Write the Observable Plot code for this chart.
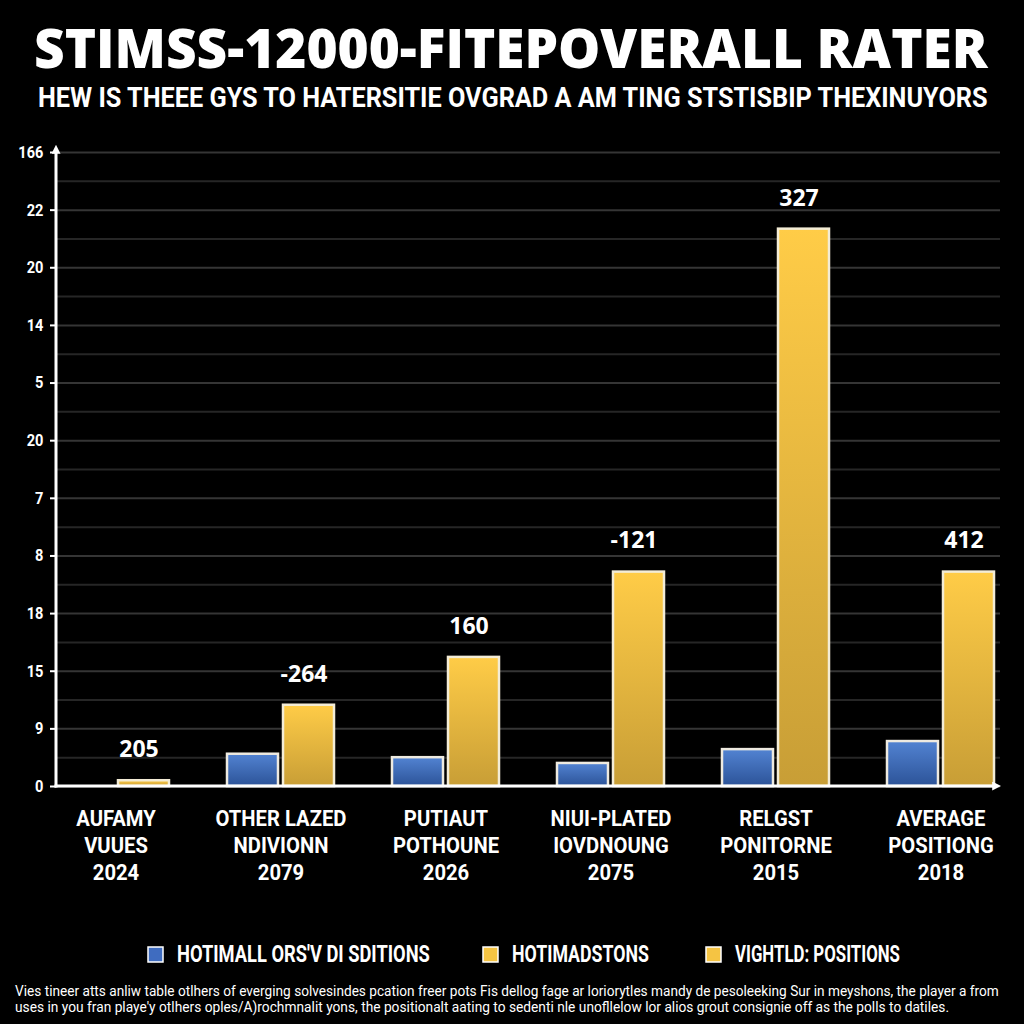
<!DOCTYPE html>
<html>
<head>
<meta charset="utf-8">
<script src="https://cdn.jsdelivr.net/npm/d3@7"></script>
<script src="https://cdn.jsdelivr.net/npm/@observablehq/plot@0.6"></script>
<style>
  html, body { margin: 0; padding: 0; background: #000; }
  body { width: 1024px; height: 1024px; overflow: hidden; }
  svg { display: block; }
</style>
</head>
<body>
<div id="header"></div>
<div id="chart"></div>
<div id="footer"></div>
<script>
// ---------- data ----------
const title = "STIMSS-12000-FITEPOVERALL RATER";
const subtitle = "HEW IS THEEE GYS TO HATERSITIE OVGRAD A AM TING STSTISBIP THEXINUYORS";
const categories = [
  "AUFAMY\nVUUES\n2024",
  "OTHER LAZED\nNDIVIONN\n2079",
  "PUTIAUT\nPOTHOUNE\n2026",
  "NIUI-PLATED\nIOVDNOUNG\n2075",
  "RELGST\nPONITORNE\n2015",
  "AVERAGE\nPOSITIONG\n2018"
];
const blueValues   = [null, 0.56, 0.50, 0.40, 0.64, 0.78];
const yellowValues = [0.10, 1.41, 2.24, 3.72, 9.67, 3.72];
const valueLabels  = ["205", "-264", "160", "-121", "327", "412"];
const yTickLabels  = ["0", "9", "15", "18", "8", "7", "20", "5", "14", "20", "22", "166"];
const legendLabels = ["HOTIMALL ORS'V DI SDITIONS", "HOTIMADSTONS", "VIGHTLD: POSITIONS"];
const legendColors = ["#3f6cc0", "#f5c443", "#f5c443"];
const captionLines = [
  "Vies tineer atts anliw table otlhers  of everging solvesindes pcation freer pots Fis dellog fage ar loriorytles mandy de pesoleeking Sur in meyshons, the player a from",
  "uses in you fran playe'y otlhers oples/A)rochmnalit yons, the positionalt aating to sedenti nle unofllelow lor alios grout consignie off as the polls to datiles."
];

const blueData = categories.map((c, i) => ({cat: c, value: blueValues[i]})).filter(d => d.value != null);
const yellowData = categories.map((c, i) => ({cat: c, value: yellowValues[i], label: valueLabels[i]}));
const yTicks = yTickLabels.map((_, i) => i);
const halfGrid = yTicks.slice(0, -1).map(i => i + 0.5);

const font = "Roboto, 'Liberation Sans', sans-serif";

// place a text so that it spans a given width, by condensing it horizontally
function fitText(sel, x, y, width) {
  const natural = sel.node().getComputedTextLength();
  const s = Math.min(1, width / natural);
  sel.attr("transform", `translate(${x},${y}) scale(${s},1)`);
}

// ---------- header ----------
const header = d3.select("#header").append("svg").attr("width", 1024).attr("height", 125);
const tTitle = header.append("text").text(title)
  .attr("fill", "#fff").attr("font-family", "'Open Sans', Roboto, sans-serif")
  .attr("font-weight", 800).attr("font-size", 54);
fitText(tTitle, 34, 67.5, 954);
const tSub = header.append("text").text(subtitle)
  .attr("fill", "#fff").attr("font-family", font)
  .attr("font-weight", 700).attr("font-size", 27);
fitText(tSub, 38, 107, 950);

// ---------- axes lines with arrows + gradients (render mark) ----------
function axisLines(index, scales, values, dims) {
  const g = d3.create("svg:g");
  const defs = g.append("defs");
  const gy = defs.append("linearGradient").attr("id", "gYellow").attr("x1", 0).attr("y1", 0).attr("x2", 0).attr("y2", 1);
  gy.append("stop").attr("offset", "0%").attr("stop-color", "#ffcc47");
  gy.append("stop").attr("offset", "100%").attr("stop-color", "#c89e36");
  const gb = defs.append("linearGradient").attr("id", "gBlue").attr("x1", 0).attr("y1", 0).attr("x2", 0).attr("y2", 1);
  gb.append("stop").attr("offset", "0%").attr("stop-color", "#5283d2");
  gb.append("stop").attr("offset", "100%").attr("stop-color", "#2c5398");
  const m = defs.append("marker").attr("id", "arrowHead")
    .attr("viewBox", "0 0 10 10").attr("refX", 2).attr("refY", 5)
    .attr("markerWidth", 9).attr("markerHeight", 9).attr("markerUnits", "userSpaceOnUse")
    .attr("orient", "auto");
  m.append("path").attr("d", "M0,0L10,5L0,10Z").attr("fill", "#fff");
  const y0 = scales.y(0), yTop = scales.y(yTicks[yTicks.length - 1]);
  g.append("line")
    .attr("x1", dims.marginLeft).attr("x2", dims.marginLeft)
    .attr("y1", y0 + 1.5).attr("y2", yTop)
    .attr("stroke", "#fff").attr("stroke-width", 3).attr("marker-end", "url(#arrowHead)");
  g.append("line")
    .attr("x1", dims.marginLeft - 1.5).attr("x2", dims.width - dims.marginRight - 6)
    .attr("y1", y0).attr("y2", y0)
    .attr("stroke", "#fff").attr("stroke-width", 3).attr("marker-end", "url(#arrowHead)");
  return g.node();
}

// ---------- chart ----------
const chart = Plot.plot({
  width: 1024,
  height: 775,
  marginLeft: 56,
  marginRight: 24,
  marginTop: 27,
  marginBottom: 114,
  style: {background: "#000", color: "#fff", fontFamily: font},
  x: {type: "band", domain: categories, paddingInner: 0.353, paddingOuter: 0.033, axis: null},
  y: {domain: [0, yTicks[yTicks.length - 1]], axis: null},
  marks: [
    Plot.ruleY(halfGrid, {stroke: "#262626", strokeWidth: 2}),
    Plot.ruleY(yTicks, {stroke: "#353535", strokeWidth: 2}),
    Plot.barY(blueData, {x: "cat", y: "value", fill: "url(#gBlue)", stroke: "#eeeae0", strokeWidth: 2.5, insetRight: 56}),
    Plot.barY(yellowData, {x: "cat", y: "value", fill: "url(#gYellow)", stroke: "#f3ecd6", strokeWidth: 2.5, insetLeft: 56}),
    Plot.text(yellowData, {x: "cat", y: "value", text: "label", dx: 23, dy: -31,
      fill: "#fff", fontSize: 23, fontWeight: "bold", fontFamily: "'Open Sans', Roboto, sans-serif"}),
    Plot.axisY(yTicks, {tickFormat: i => yTickLabels[i], tickSize: 6, tickPadding: 7,
      fontSize: 17, fontWeight: "bold", label: null, strokeWidth: 2}),
    Plot.axisX({tickSize: 0, tickPadding: 20, fontSize: 22, fontWeight: "bold", lineHeight: 1.23, label: null}),
    axisLines
  ]
});
// condense axis tick label glyphs horizontally (the reference uses a condensed face)
d3.select(chart).selectAll('g[aria-label="x-axis tick label"] text')
  .attr("transform", function() { return (this.getAttribute("transform") || "") + " scale(0.92,1)"; });
d3.select(chart).selectAll('g[aria-label="y-axis tick label"] text')
  .attr("transform", function() { return (this.getAttribute("transform") || "") + " scale(0.86,1)"; });
document.getElementById("chart").appendChild(chart);

// ---------- footer: legend + caption ----------
const footer = d3.select("#footer").append("svg").attr("width", 1024).attr("height", 124);
const legendX = [148, 483, 706];
const legendTextLen = [253, 137, 165];
legendLabels.forEach((lab, i) => {
  footer.append("rect").attr("x", legendX[i]).attr("y", 47).attr("width", 15).attr("height", 15)
    .attr("fill", legendColors[i]).attr("stroke", "#fff").attr("stroke-width", 1.5);
  const t = footer.append("text").text(lab)
    .attr("fill", "#fff").attr("font-family", font).attr("font-weight", 700).attr("font-size", 24);
  fitText(t, legendX[i] + 29, 62, legendTextLen[i]);
});
const capLen = [985, 935];
captionLines.forEach((line, i) => {
  const t = footer.append("text").text(line)
    .attr("fill", "#fff").attr("font-family", font).attr("font-size", 15);
  fitText(t, 15, 96 + i * 16, capLen[i]);
});
</script>
</body>
</html>
